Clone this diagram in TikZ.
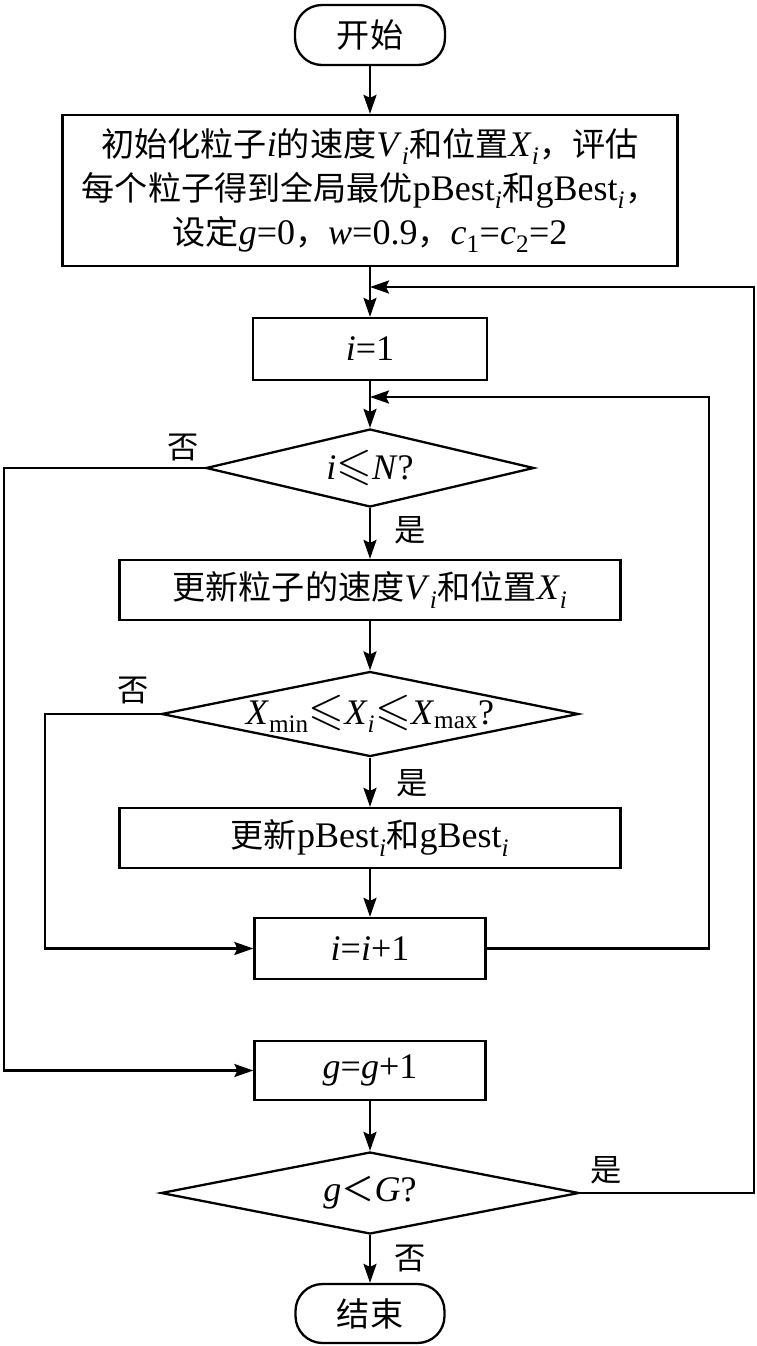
\documentclass[tikz,border=0pt]{standalone}
\usepackage{fontspec}
\usepackage{amssymb}
\setmainfont{Liberation Serif}
\newfontfamily\cjk[Scale=0.92]{Noto Sans CJK SC}
\usetikzlibrary{shapes.geometric,arrows.meta}
\newcommand{\zh}[1]{{\cjk #1}}
\newcommand{\sbi}{\textsubscript{\textit{i}}}
\newcommand{\leqs}{{\fontsize{46}{46}\selectfont$\leqslant$}}
\begin{document}
\begin{tikzpicture}[x=1pt,y=-1pt, line width=2.3pt,
 every node/.style={font=\fontsize{36}{44}\selectfont},
 box/.style={draw, rectangle, inner sep=0pt, align=center},
 term/.style={draw, rounded corners=27pt, inner sep=0pt},
 dia/.style={draw, diamond, inner sep=0pt},
 arr/.style={-{Stealth[length=19pt,width=13pt,inset=3pt]}},
 lbl/.style={font=\fontsize{34}{34}\selectfont}]
\useasboundingbox (0,0) rectangle (756,1346);

\node[term, minimum width=150pt, minimum height=60pt] (start) at (370,35) {\zh{开始}};
\node[box, minimum width=615pt, minimum height=151pt] (init) at (370,190.5)
 {\zh{初始化粒子}\textit{i}\zh{的速度}\textit{V}\sbi\zh{和位置}\textit{X}\sbi\zh{，评估}\\
  \zh{每个粒子得到全局最优}pBest\sbi\zh{和}gBest\sbi\zh{，}\\
  \zh{设定}\textit{g}=0\zh{，}\textit{w}=0.9\zh{，}\textit{c}\textsubscript{1}=\textit{c}\textsubscript{2}=2};
\node[box, minimum width=234pt, minimum height=62pt] (i1) at (370,349) {\textit{i}=1};
\node[dia, minimum width=328pt, minimum height=78pt] (d1) at (370,468)
 {\makebox[0pt]{\textit{i}\leqs\textit{N}?}};
\node[box, minimum width=501pt, minimum height=60pt] (u1) at (370,590)
 {\zh{更新粒子的速度}\textit{V}\sbi\zh{和位置}\textit{X}\sbi};
\node[dia, minimum width=417pt, minimum height=85pt] (d2) at (370,714)
 {\makebox[0pt]{\textit{X}\textsubscript{min}\leqs\textit{X}\sbi\leqs\textit{X}\textsubscript{max}?}};
\node[box, minimum width=501pt, minimum height=60pt] (u2) at (370,838)
 {\zh{更新}pBest\sbi\zh{和}gBest\sbi};
\node[box, minimum width=231pt, minimum height=61pt] (ii) at (370,948.5) {\textit{i}=\textit{i}+1};
\node[box, minimum width=231pt, minimum height=59pt] (gg) at (370,1070.5) {\textit{g}=\textit{g}+1};
\node[dia, minimum width=418pt, minimum height=82pt] (d3) at (370,1193)
 {\makebox[0pt]{\textit{g}\zh{＜}\textit{G}?}};
\node[term, minimum width=149pt, minimum height=59pt] (end) at (370,1313.5) {\zh{结束}};

\coordinate (l1) at (370,287);
\coordinate (c1) at (754,287);
\coordinate (l2) at (370,397);
\coordinate (c2) at (709,397);
\coordinate (c3) at (4,468);
\coordinate (c4) at (45,714);

\draw[arr] (start) -- (init);
\draw[arr] (init) -- (i1);
\draw[arr] (i1) -- (d1);
\draw[arr] (d1) -- (u1);
\draw[arr] (u1) -- (d2);
\draw[arr] (d2) -- (u2);
\draw[arr] (u2) -- (ii);
\draw[arr] (gg) -- (d3);
\draw[arr] (d3) -- (end);
\draw[arr] (d1.west) -- (c3) |- (gg.west);
\draw[arr] (d2.west) -- (c4) |- (ii.west);
\draw[arr] (ii.east) -| (c2) -- (l2);
\draw[arr] (d3.east) -| (c1) -- (l1);

\node[lbl] (n1) at (183,447) {\zh{否}};
\node[lbl] (y1) at (410,530) {\zh{是}};
\node[lbl] (n2) at (133,690) {\zh{否}};
\node[lbl] (y2) at (412,783) {\zh{是}};
\node[lbl] (y3) at (606,1170) {\zh{是}};
\node[lbl] (n3) at (410,1258) {\zh{否}};
\end{tikzpicture}
\end{document}
